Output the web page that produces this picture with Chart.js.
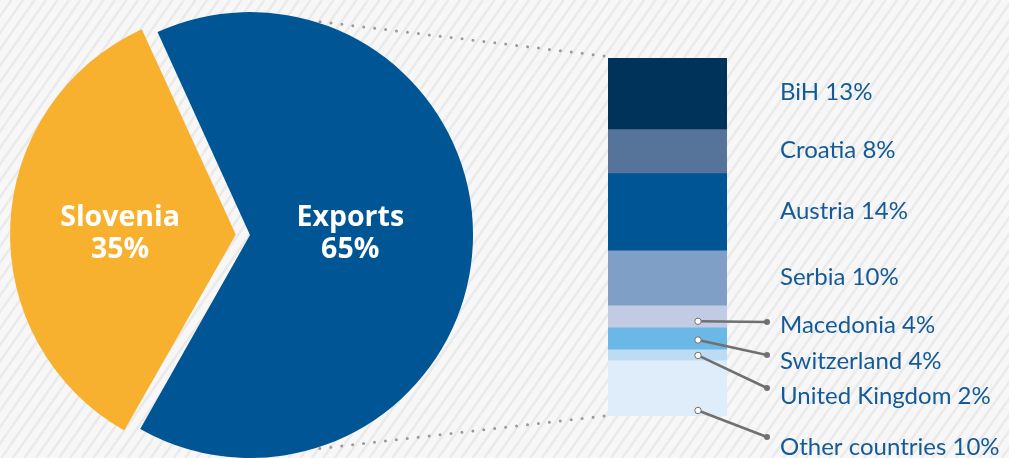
<!DOCTYPE html>
<html>
<head>
<meta charset="utf-8">
<script src="https://cdn.jsdelivr.net/npm/chart.js@4/dist/chart.umd.min.js"></script>
<style>
    html, body { margin: 0; padding: 0; background: #f7f7f7; }
    #wrap { position: relative; width: 1009px; height: 458px; overflow: hidden; }
    #wrap canvas { position: absolute; left: 0; top: 0; }
</style>
</head>
<body>
<div id="wrap">
    <canvas id="pieChart" width="1009" height="458"></canvas>
    <canvas id="barChart" width="1009" height="458"></canvas>
</div>
<script>
// split of sales
const pieLabels = ['Exports', 'Slovenia'];
const pieValues = [65, 35];
const pieColors = ['#005595', '#f8b12f'];

// export destinations, listed top to bottom
const exportLabels = ['BiH', 'Croatia', 'Austria', 'Serbia', 'Macedonia', 'Switzerland', 'United Kingdom', 'Other countries'];
const exportValues = [13, 8, 14, 10, 4, 4, 2, 10];
const exportColors = ['#00335a', '#56739a', '#005595', '#809fc6', '#c1cbe3', '#6bb8e6', '#bddcf3', '#dfedfa'];

const TEXT_BLUE = '#155a98';
const LEADER_GREY = '#707070';

// small segments get a leader line: label baseline, line end and anchor inside the segment
const calloutLabelY = { 4: 333, 5: 369, 6: 404, 7: 455 };
const calloutEndY = { 4: 322, 5: 355, 6: 388, 7: 437 };
const calloutAnchor = { 4: 0.7, 5: 0.55, 6: 0.5, 7: 0.9 };

const stripes = {
    id: 'stripes',
    beforeDraw(chart) {
        const ctx = chart.ctx;
        const w = chart.width, h = chart.height;
        ctx.save();
        ctx.fillStyle = '#f7f7f7';
        ctx.fillRect(0, 0, w, h);
        ctx.strokeStyle = '#eaeaea';
        ctx.lineWidth = 2.5;
        const rise = h * 0.7;
        for (let x = -rise; x < w + rise; x += 11.5) {
            ctx.beginPath();
            ctx.moveTo(x, h);
            ctx.lineTo(x + rise, 0);
            ctx.stroke();
        }
        ctx.restore();
    }
};

// how far the slice is pushed out, mirrors ArcElement.draw
function arcShift(arc) {
    const offset = (arc.options.offset || 0) / 4;
    const fix = 1 - Math.sin(Math.min(Math.PI, arc.circumference || 0));
    return offset * (1 + fix);
}

const pieText = {
    id: 'pieText',
    afterDatasetsDraw(chart) {
        const ctx = chart.ctx;
        const arcs = chart.getDatasetMeta(0).data;
        const dist = [0.45, 0.507];
        ctx.save();
        ctx.fillStyle = '#ffffff';
        ctx.font = 'bold 28.5px "Open Sans"';
        ctx.textAlign = 'center';
        ctx.textBaseline = 'alphabetic';
        arcs.forEach((arc, i) => {
            const mid = (arc.startAngle + arc.endAngle) / 2;
            const r = arc.outerRadius * dist[i] + arcShift(arc);
            const x = arc.x + Math.cos(mid) * r;
            const y = arc.y - 3.5;
            ctx.fillText(pieLabels[i], x, y - 6);
            ctx.fillText(pieValues[i] + '%', x, y + 26.5);
        });
        ctx.restore();
    }
};

const pieChart = new Chart(document.getElementById('pieChart'), {
    type: 'pie',
    data: {
        labels: pieLabels,
        datasets: [{
            data: pieValues,
            backgroundColor: pieColors,
            borderWidth: 0,
            offset: [0, 57],
            radius: 223
        }]
    },
    options: {
        responsive: false,
        devicePixelRatio: 1,
        animation: false,
        rotation: -24.5,
        layout: { padding: { left: 0, right: 509, top: 12, bottom: 0 } },
        plugins: { legend: { display: false }, tooltip: { enabled: false } }
    },
    plugins: [stripes, pieText]
});

// dotted lines from the pie to the bar, plus labels and leader lines
const barText = {
    id: 'barText',
    afterDatasetsDraw(chart) {
        const ctx = chart.ctx;
        const n = exportLabels.length;
        const bars = exportLabels.map((_, i) => chart.getDatasetMeta(n - 1 - i).data[0]);
        const top = bars[0];
        const bottom = bars[n - 1];
        const left = top.x - top.width / 2;
        const right = top.x + top.width / 2;

        const pie = pieChart.getDatasetMeta(0).data[0];
        const a = 16 * Math.PI / 180;
        const px = pie.x + Math.sin(a) * pie.outerRadius;
        ctx.save();
        ctx.strokeStyle = '#9a9a9a';
        ctx.lineWidth = 3;
        ctx.lineCap = 'round';
        ctx.setLineDash([0, 11]);
        ctx.beginPath();
        ctx.moveTo(left - 4, top.y - 2);
        ctx.lineTo(px, pie.y - Math.cos(a) * pie.outerRadius);
        ctx.moveTo(left - 4, bottom.base);
        ctx.lineTo(px, pie.y + Math.cos(a) * pie.outerRadius);
        ctx.stroke();
        ctx.restore();

        ctx.save();
        ctx.font = '24px Lato';
        ctx.fillStyle = TEXT_BLUE;
        ctx.textAlign = 'left';
        ctx.textBaseline = 'alphabetic';
        const textX = right + 53;
        bars.forEach((bar, i) => {
            const label = exportLabels[i] + ' ' + exportValues[i] + '%';
            if (calloutLabelY[i] === undefined) {
                ctx.fillText(label, textX, (bar.y + bar.base) / 2 + 6.5);
                return;
            }
            const ax = right - 29;
            const ay = bar.y + (bar.base - bar.y) * calloutAnchor[i];
            const ex = right + 40;
            const ey = calloutEndY[i];
            ctx.strokeStyle = LEADER_GREY;
            ctx.lineWidth = 2.5;
            ctx.beginPath();
            ctx.moveTo(ax, ay);
            ctx.lineTo(ex, ey);
            ctx.stroke();
            ctx.fillStyle = LEADER_GREY;
            ctx.beginPath();
            ctx.arc(ex, ey, 3, 0, Math.PI * 2);
            ctx.fill();
            ctx.fillStyle = '#ffffff';
            ctx.lineWidth = 1;
            ctx.beginPath();
            ctx.arc(ax, ay, 3.2, 0, Math.PI * 2);
            ctx.fill();
            ctx.stroke();
            ctx.fillStyle = TEXT_BLUE;
            ctx.fillText(label, textX, calloutLabelY[i]);
        });
        ctx.restore();
    }
};

// stacked bottom-up, so the list is fed in reverse
const barDatasets = exportLabels.map((label, i) => ({
    label: label,
    data: [exportValues[i]],
    backgroundColor: exportColors[i],
    borderWidth: 0,
    barPercentage: 1,
    categoryPercentage: 1
})).reverse();

new Chart(document.getElementById('barChart'), {
    type: 'bar',
    data: { labels: ['Exports'], datasets: barDatasets },
    options: {
        responsive: false,
        devicePixelRatio: 1,
        animation: false,
        layout: { padding: { left: 608, right: 282, top: 58, bottom: 42 } },
        scales: {
            x: { stacked: true, display: false },
            y: { stacked: true, display: false, min: 0, max: 65 }
        },
        plugins: { legend: { display: false }, tooltip: { enabled: false } }
    },
    plugins: [barText]
});
</script>
</body>
</html>
